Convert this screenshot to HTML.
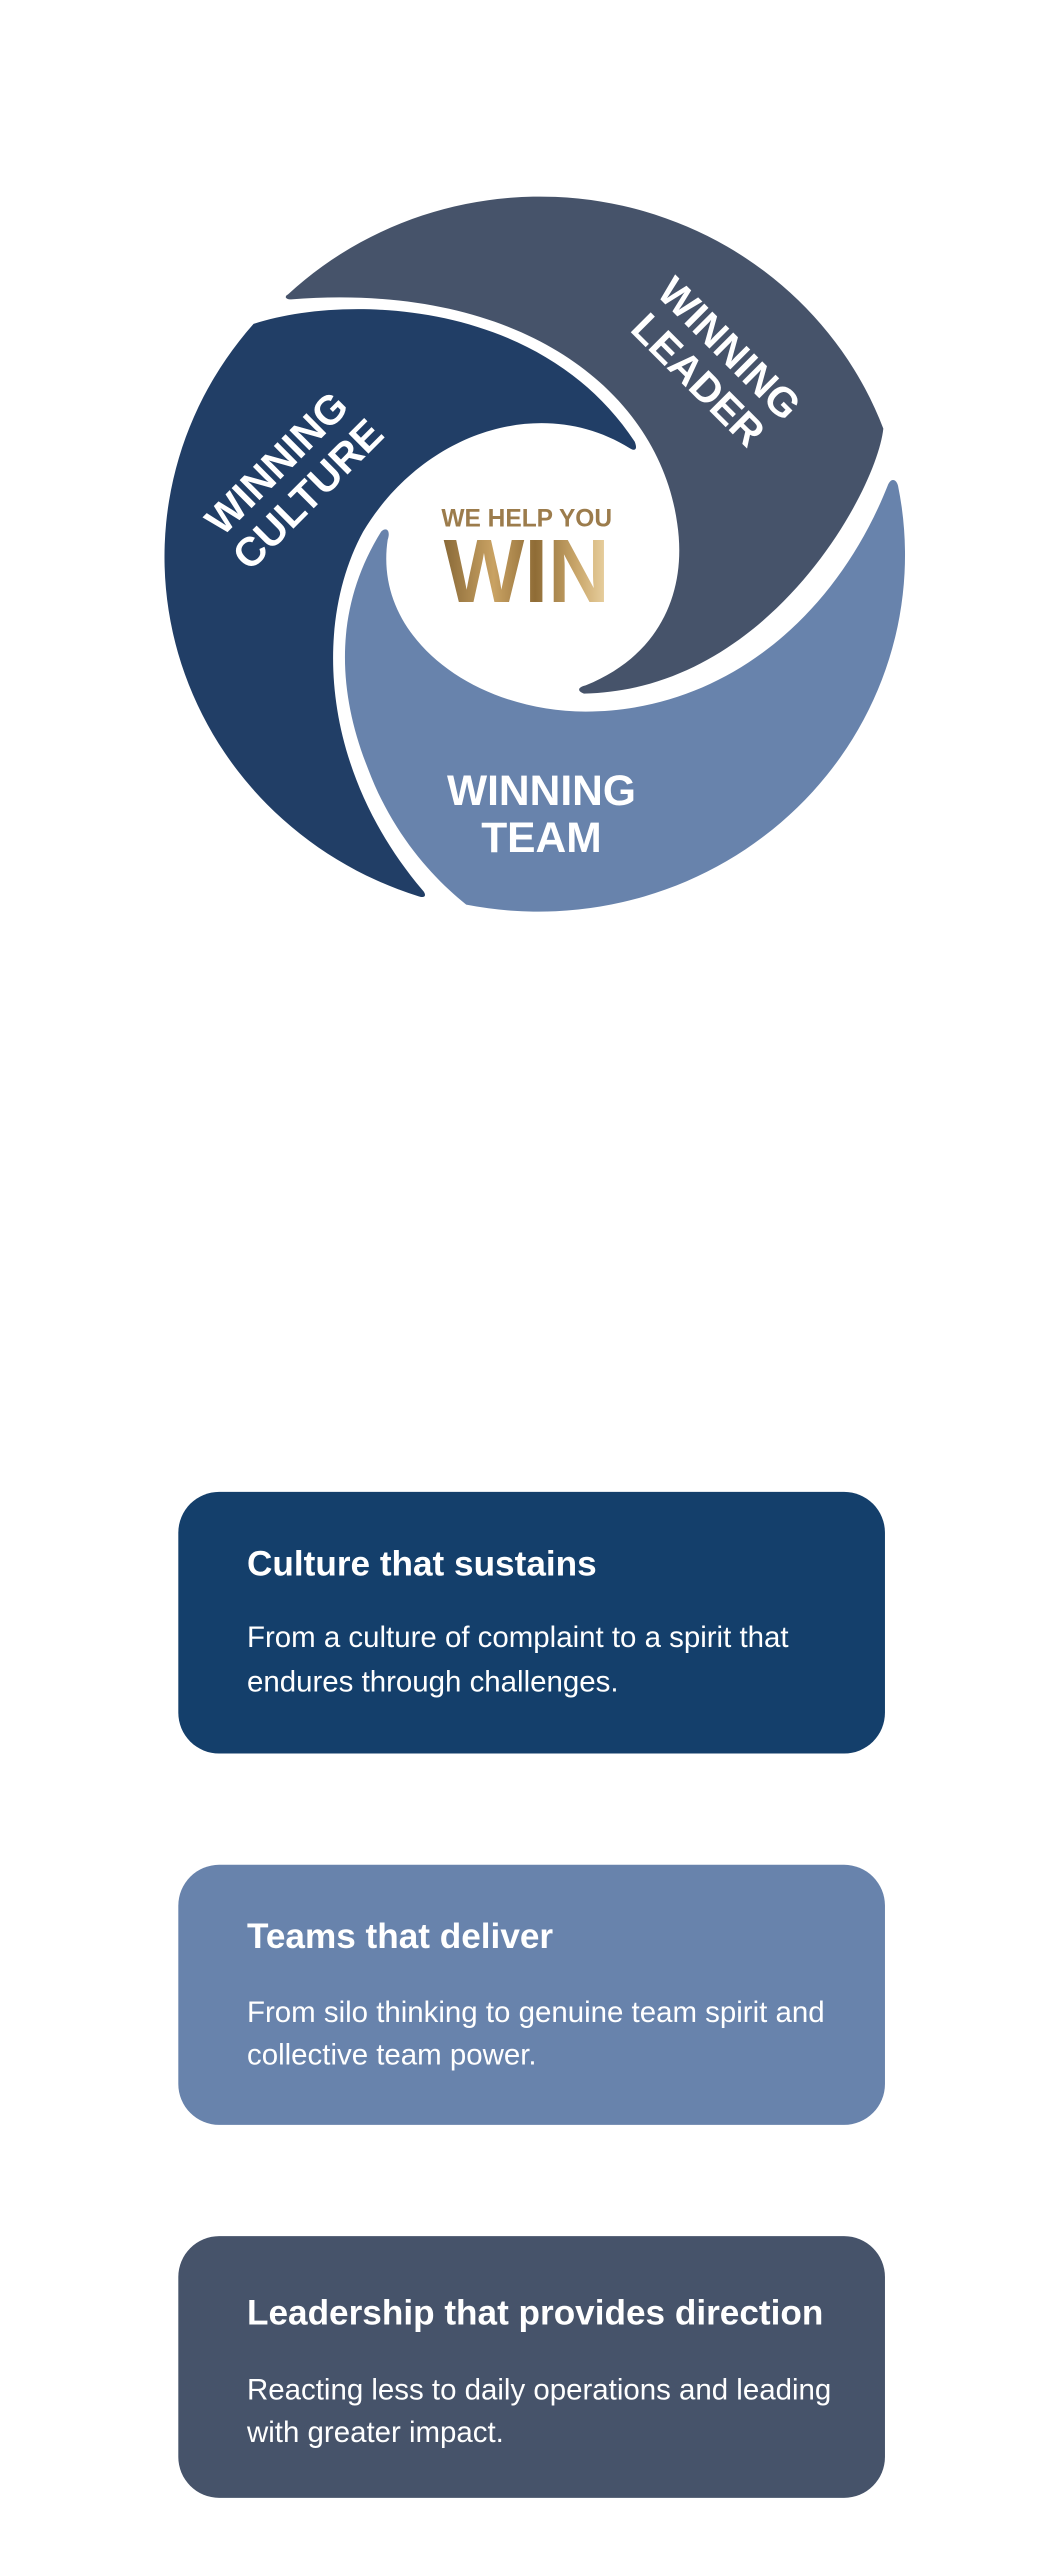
<!DOCTYPE html>
<html><head><meta charset="utf-8"><style>
html,body{margin:0;padding:0;background:#fff;width:1060px;height:2560px;overflow:hidden}
svg{display:block}
text{font-family:"Liberation Sans",sans-serif}
</style></head><body>
<svg width="1060" height="2560" viewBox="0 0 648 1565" xmlns="http://www.w3.org/2000/svg">
<defs>
<linearGradient id="g" x1="0" x2="1" y1="0" y2="0">
<stop offset="0" stop-color="#8a6a38"/><stop offset="0.3" stop-color="#c9a263"/>
<stop offset="0.55" stop-color="#8f6c36"/><stop offset="0.8" stop-color="#c9a66a"/><stop offset="1" stop-color="#ecd5a6"/>
</linearGradient>
</defs>
<!-- Leader -->
<path d="M176,180 A224,218 0 0 1 540,262 C536,300 470,422 357,424 C352,422 354,420 358,419 C405,400 420,360 414,320 C403,240 320,172 178,183 C174,183 174,181 176,180 Z" fill="#46536a"/>
<!-- Culture -->
<path d="M155,198 C210,180 330,182 388,270 C390,275 388,276 385,274 C330,240 258,265 222,325 C192,380 195,470 259,545 C261,548 259,549 256,548 A224,218 0 0 1 155,198 Z" fill="#213e66"/>
<!-- Team -->
<path d="M233,325 C236,322 239,324 237,330 C228,390 290,435 358,435 C440,435 510,380 543,296 C545,292 548,293 549,297 A224,218 0 0 1 285,553 C265,537 240,510 225,470 C205,420 205,370 233,325 Z" fill="#6883ac"/>
<text x="322" y="322" text-anchor="middle" font-size="15" font-weight="bold" fill="#9c7c4c">WE HELP YOU</text>
<text x="322" y="368" text-anchor="middle" font-size="55" font-weight="bold" fill="url(#g)" transform="translate(322 0) scale(0.95 1) translate(-322 0)">WIN</text>
<text x="331" y="492" text-anchor="middle" font-size="26" font-weight="bold" fill="#fff">WINNING</text>
<text x="331" y="521" text-anchor="middle" font-size="26" font-weight="bold" fill="#fff">TEAM</text>
<g transform="translate(437,222) rotate(45)" fill="#fff" font-size="25" font-weight="bold" text-anchor="middle">
<text x="0" y="-4">WINNING</text><text x="0" y="23">LEADER</text></g>
<g transform="translate(178,292) rotate(-45)" fill="#fff" font-size="25" font-weight="bold" text-anchor="middle">
<text x="0" y="-4">WINNING</text><text x="0" y="23">CULTURE</text></g>

<rect x="109" y="912" width="432" height="160" rx="25" fill="#143f6b"/>
<text x="151" y="963" font-size="21.5" font-weight="bold" fill="#fff">Culture that sustains</text>
<text x="151" y="1007" font-size="18" fill="#fff">From a culture of complaint to a spirit that</text>
<text x="151" y="1034" font-size="18" fill="#fff">endures through challenges.</text>

<rect x="109" y="1140" width="432" height="159" rx="25" fill="#6883ac"/>
<text x="151" y="1191" font-size="21.5" font-weight="bold" fill="#fff">Teams that deliver</text>
<text x="151" y="1236" font-size="18" fill="#fff">From silo thinking to genuine team spirit and</text>
<text x="151" y="1262" font-size="18" fill="#fff">collective team power.</text>

<rect x="109" y="1367" width="432" height="160" rx="25" fill="#46536a"/>
<text x="151" y="1421" font-size="21.5" font-weight="bold" fill="#fff">Leadership that provides direction</text>
<text x="151" y="1467" font-size="18" fill="#fff">Reacting less to daily operations and leading</text>
<text x="151" y="1493" font-size="18" fill="#fff">with greater impact.</text>
</svg>
</body></html>
